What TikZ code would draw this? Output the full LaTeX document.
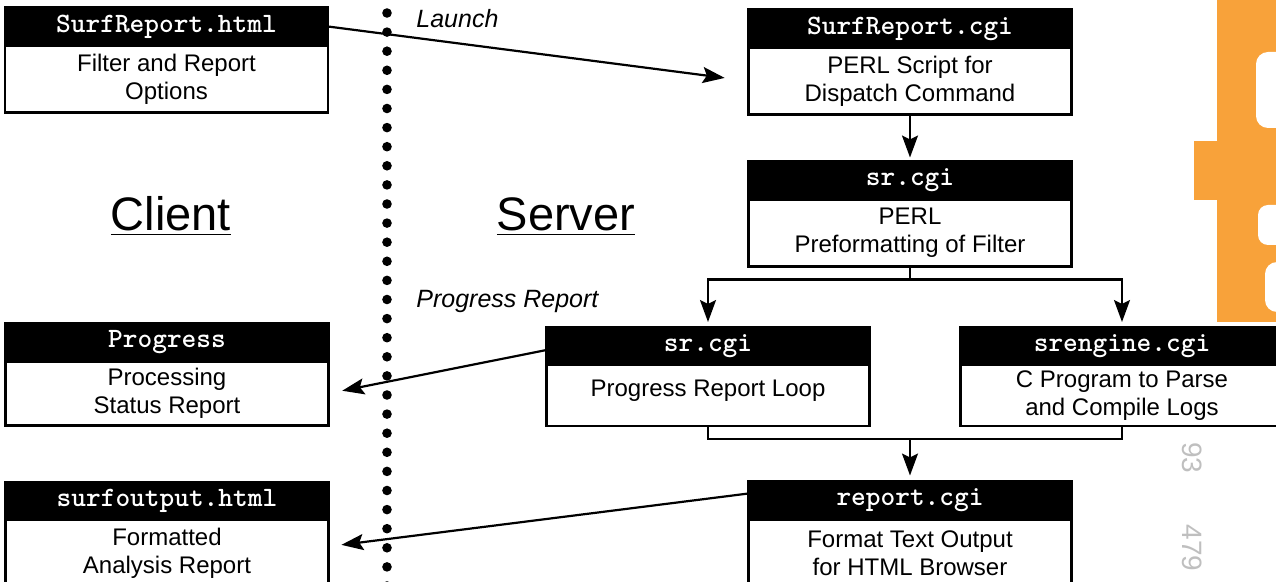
\documentclass[tikz,border=0pt]{standalone}
\usepackage{fontspec}
\setmainfont{Liberation Sans}
\usetikzlibrary{arrows.meta,positioning}

\definecolor{stamporange}{RGB}{248,162,58}

\tikzset{
  boxhead/.style={draw=black, fill=black, text=white, line width=1.3pt,
    minimum width=161.5pt, minimum height=19pt, inner sep=0pt, outer sep=0pt,
    font=\fontsize{14}{14}\selectfont\ttfamily\bfseries},
  boxbody/.style={draw=black, fill=white, line width=1.3pt, align=center,
    minimum width=161.5pt, minimum height=33.5pt, inner sep=0pt, outer sep=0pt,
    font=\fontsize{12}{14}\selectfont},
  arr/.style={-{Stealth[length=11pt,width=8pt,inset=2pt]}, line width=1.1pt},
  lbl/.style={anchor=west, inner sep=0pt, font=\fontsize{12.5}{14}\selectfont\itshape},
  side/.style={anchor=base, inner sep=0pt, font=\fontsize{23.5}{26}\selectfont}
}

\begin{document}
\begin{tikzpicture}[x=0.5pt, y=-0.5pt]
\useasboundingbox (0,0) rectangle (1276,582);

% stamp in the corner
\fill[stamporange] (1217,0) rectangle (1276,322);
\fill[stamporange] (1194,141) rectangle (1217,200);
\fill[white, rounded corners=6pt] (1256,52) rectangle (1290,128);
\fill[white, rounded corners=5pt] (1258,205) rectangle (1290,245);
\fill[white, rounded corners=6pt] (1265,262) rectangle (1290,312);
\node[rotate=-90, text=black!25, font=\fontsize{14}{14}\selectfont] (st1) at (1192,458) {93};
\node[rotate=-90, text=black!25, font=\fontsize{14}{14}\selectfont] (st2) at (1192,548) {479};

% client / server divider
\foreach \i in {0,...,30}
  \fill (387,13+19.1*\i) circle (2.4pt);

\node[side] (client) at (171,231) {\underline{Client}};
\node[side] (server) at (566,231) {\underline{Server}};

% client side
\node[boxhead] (html) at (166.5,26.5) {SurfReport.html};
\node[boxbody, below=0pt of html] (html-b) {Filter and Report\\Options};

\node[boxhead] (prog) at (167,342.5) {Progress};
\node[boxbody, minimum height=32pt, below=0pt of prog] (prog-b) {Processing\\Status Report};

\node[boxhead] (surf) at (167,501) {surfoutput.html};
\node[boxbody, below=0pt of surf] (surf-b) {Formatted\\Analysis Report};

% server side
\node[boxhead] (cgi1) at (910,28.5) {SurfReport.cgi};
\node[boxbody, below=0pt of cgi1] (cgi1-b) {PERL Script for\\Dispatch Command};

\node[boxhead] (sr1) at (910,180.5) {sr.cgi};
\node[boxbody, below=0pt of sr1] (sr1-b) {PERL\\Preformatting of Filter};

\node[boxhead] (sr2) at (708,346) {sr.cgi};
\node[boxbody, minimum height=30.5pt, below=0pt of sr2] (sr2-b) {Progress Report Loop\\[-7pt]};

\node[boxhead] (eng) at (1122,346) {srengine.cgi};
\node[boxbody, minimum height=30.5pt, below=0pt of eng] (eng-b) {C Program to Parse\\and Compile Logs};

\node[boxhead] (report) at (910,500.5) {report.cgi};
\node[boxbody, below=0pt of report] (report-b) {Format Text Output\\for HTML Browser};

% labels
\node[lbl] (launch) at (416,19) {Launch};
\node[lbl] (progress) at (416,301) {Progress Report};

% connectors
\draw[arr, shorten >=12pt] (html.east) -- (cgi1-b.west);
\draw[arr, shorten >=2pt] (cgi1-b.south) -- (sr1.north);
\draw[arr, shorten >=2.5pt] (sr1-b.south) -- ++(0,13) -| (sr2.north);
\draw[arr, shorten >=2.5pt] (sr1-b.south) -- ++(0,13) -| (eng.north);
\draw[line width=1.1pt] (sr2-b.south) -- ++(0,13) coordinate (join) -| (eng-b.south);
\draw[arr, shorten >=3pt] (join -| report.north) -- (report.north);
\draw[arr, shorten >=7pt] ([yshift=-2pt]sr2.west) -- (prog-b.east);
\draw[arr, shorten >=6.5pt] ([yshift=3.5pt]report.west) -- ([yshift=3.5pt]surf-b.east);

\end{tikzpicture}
\end{document}
